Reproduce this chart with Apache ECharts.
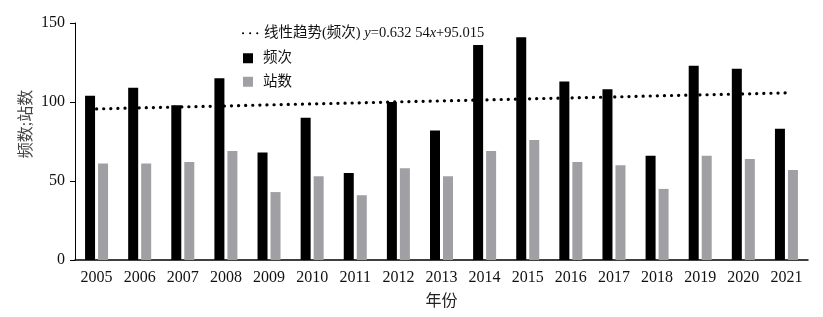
<!DOCTYPE html>
<html>
<head>
<meta charset="utf-8">
<script src="https://cdn.jsdelivr.net/npm/echarts@6/dist/echarts.min.js"></script>
<style>
  html, body { margin: 0; padding: 0; background: #fff; }
  #chart { width: 823px; height: 317px; }
</style>
</head>
<body>
<div id="chart"></div>
<script>
  var years = ['2005', '2006', '2007', '2008', '2009', '2010', '2011', '2012', '2013',
    '2014', '2015', '2016', '2017', '2018', '2019', '2020', '2021'];
  // 频次
  var freq = [104, 109, 98, 115, 68, 90, 55, 100, 82, 136, 141, 113, 108, 66, 123, 121, 83];
  // 站数
  var stations = [61, 61, 62, 69, 43, 53, 41, 58, 53, 69, 76, 62, 60, 45, 66, 64, 57];
  // 线性趋势 (频次)
  var trend = [95.6, 96.3, 96.9, 97.5, 98.2, 98.8, 99.4, 100.1, 100.7, 101.3, 102.0,
    102.6, 103.2, 103.9, 104.5, 105.1, 105.8];
  var yTicks = [0, 50, 100, 150];

  var fontFam = '"Liberation Serif", "Noto Sans CJK SC", serif';
  var trendName = '线性趋势(频次)';

  var legendText = {
    fontFamily: fontFam,
    fontSize: 14.5,
    color: '#111',
    rich: {
      i: { fontStyle: 'italic', fontFamily: fontFam, fontSize: 14.5, color: '#111' }
    }
  };

  var mychar = echarts.init(document.getElementById('chart'));
  var option = {
    animation: false,
    backgroundColor: '#fff',
    textStyle: { fontFamily: fontFam },
    legend: [{
      // trend line entry
      orient: 'vertical',
      left: 237,
      top: 21,
      itemWidth: 16,
      itemHeight: 10,
      data: [{ name: trendName, itemStyle: { opacity: 0 } }],
      formatter: function (name) {
        return name + ' {i|y}=0.632 54{i|x}+95.015';
      },
      textStyle: legendText
    }, {
      // bar entries
      orient: 'vertical',
      left: 238,
      top: 46,
      itemGap: 9,
      itemWidth: 10,
      itemHeight: 10,
      icon: 'rect',
      data: ['频次', '站数'],
      textStyle: Object.assign({}, legendText, { padding: [0, 0, 0, 5] })
    }],
    grid: { left: 75, right: 15, top: 23, bottom: 57 },
    xAxis: {
      type: 'category',
      data: years,
      name: '年份',
      nameLocation: 'middle',
      nameGap: 34,
      nameTextStyle: { fontSize: 16, color: '#222', fontFamily: fontFam },
      axisLine: { lineStyle: { color: '#000', width: 1.5 } },
      axisTick: { show: false },
      axisLabel: { fontSize: 16, color: '#111', margin: 10, fontFamily: fontFam, interval: 0 }
    },
    yAxis: {
      type: 'value',
      min: yTicks[0],
      max: yTicks[yTicks.length - 1],
      interval: 50,
      name: '频数;站数',
      nameLocation: 'middle',
      nameGap: 40,
      nameMoveOverlap: false,
      nameTextStyle: { fontSize: 16, color: '#444', fontFamily: fontFam, padding: [0, 0, 0, 35] },
      axisLine: { show: true, lineStyle: { color: '#000', width: 1 } },
      axisTick: { show: true, inside: false, length: 5, lineStyle: { color: '#000' } },
      splitLine: { show: false },
      axisLabel: { fontSize: 16, color: '#111', margin: 10, fontFamily: fontFam }
    },
    series: [
      {
        name: trendName,
        type: 'line',
        data: trend,
        symbol: 'none',
        z: 5,
        itemStyle: { color: '#000' },
        lineStyle: { color: '#000', width: 3.2, type: [0.1, 7], cap: 'round' }
      },
      {
        name: '频次',
        type: 'bar',
        data: freq,
        barWidth: 10,
        barGap: '30%',
        itemStyle: { color: '#000' }
      },
      {
        name: '站数',
        type: 'bar',
        data: stations,
        barWidth: 10,
        itemStyle: { color: '#a0a0a4' }
      }
    ]
  };
  mychar.setOption(option);
</script>
</body>
</html>
